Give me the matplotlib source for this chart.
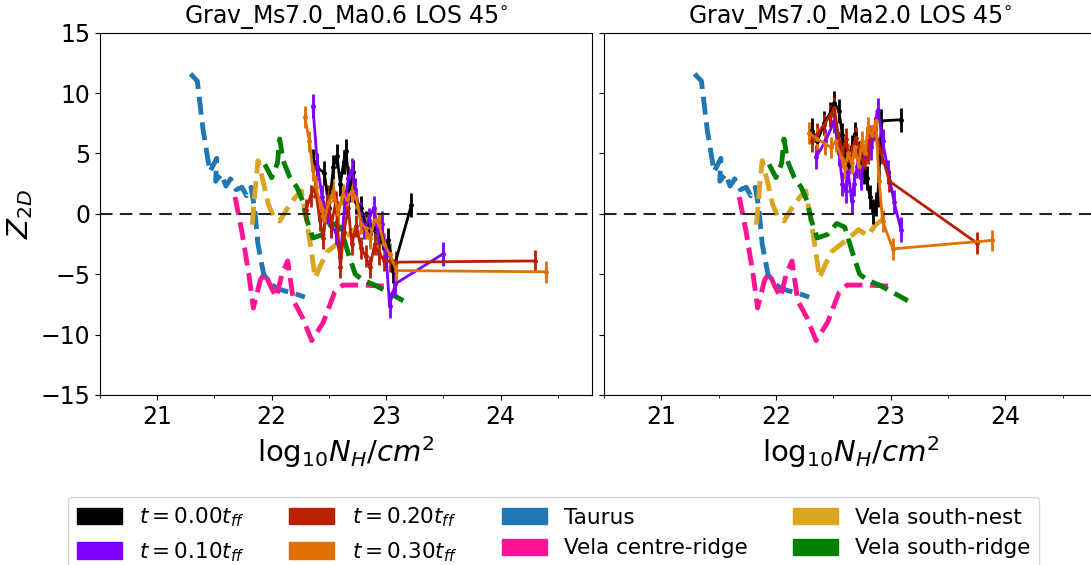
import numpy as np
import matplotlib
matplotlib.use("Agg")
from matplotlib import pyplot as plt
from matplotlib.patches import Patch

# observations (same in both panels)
taurus_x = [21.29, 21.35, 21.40, 21.46, 21.52, 21.51, 21.56, 21.60, 21.64, 21.69, 21.74,
            21.78, 21.82, 21.85, 21.88, 21.93, 21.99, 22.05, 22.12, 22.20, 22.29]
taurus_y = [11.6, 11.0, 7.0, 3.5, 4.6, 2.7, 3.3, 2.3, 2.9, 2.0, 2.2,
            1.5, 2.2, 0.5, -2.5, -5.0, -5.8, -6.2, -6.4, -6.6, -6.9]
centre_x = [21.68, 21.74, 21.80, 21.84, 21.90, 21.94, 21.99, 22.04, 22.09, 22.14, 22.19,
            22.27, 22.35, 22.45, 22.55, 22.62, 22.80, 23.03]
centre_y = [1.4, -1.5, -5.0, -7.8, -5.5, -4.9, -6.0, -6.9, -5.0, -3.9, -7.2,
            -8.6, -10.5, -9.0, -6.5, -5.9, -5.9, -6.0]
nest_x = [21.83, 21.86, 21.88, 21.93, 21.97, 22.02, 22.07, 22.14, 22.20, 22.26, 22.31,
          22.35, 22.38, 22.43, 22.49, 22.57, 22.64, 22.72, 22.80, 22.87, 22.95]
nest_y = [-0.9, 2.5, 4.4, 2.5, 0.8, -0.3, -0.6, 0.5, 1.3, 1.9, -0.8,
          -3.3, -5.3, -4.2, -3.1, -2.5, -2.0, -1.3, -1.8, -0.9, -0.3]
ridge_x = [21.94, 22.00, 22.05, 22.07, 22.10, 22.16, 22.22, 22.27, 22.31, 22.36,
           22.45, 22.53, 22.60, 22.67, 22.73, 22.80, 22.90, 23.00, 23.15]
ridge_y = [4.1, 3.0, 4.2, 6.2, 4.4, 3.0, 2.2, 1.1, -0.6, -2.0,
           -1.7, -0.8, -1.1, -3.3, -5.0, -5.5, -5.9, -6.4, -7.2]

# simulation Ma0.6
a_t0_x = [22.36, 22.40, 22.46, 22.50, 22.54, 22.57, 22.60, 22.63, 22.65, 22.68, 22.71,
          22.74, 22.78, 22.82, 22.86, 22.90, 22.94, 22.98, 23.02, 23.06, 23.22]
a_t0_y = [4.4, 3.8, 3.4, 0.5, 3.9, 4.8, 2.5, 4.3, 5.2, 2.0, 3.5,
          1.0, 0.5, -0.8, -1.7, -1.2, -1.5, -2.8, -2.2, -4.7, 0.7]
a_t1_x = [22.36, 22.40, 22.44, 22.48, 22.52, 22.56, 22.60, 22.64, 22.67, 22.70, 22.73,
          22.77, 22.81, 22.85, 22.89, 22.93, 22.96, 23.00, 23.03, 23.08, 23.50]
a_t1_y = [8.9, 4.0, 1.4, 0.2, -1.0, -1.5, -3.6, 1.0, 3.0, 3.6, 2.0,
          0.0, -1.1, -0.5, 0.5, -1.5, -0.8, -3.5, -7.6, -5.8, -3.3]
a_t2_x = [22.30, 22.34, 22.38, 22.42, 22.45, 22.49, 22.52, 22.56, 22.60, 22.63, 22.67,
          22.70, 22.74, 22.78, 22.82, 22.86, 22.90, 22.94, 22.98, 23.03, 23.09, 24.30]
a_t2_y = [0.3, 1.5, 2.2, -0.5, -2.0, 1.5, -1.0, 1.0, -4.4, -1.5, 0.5,
          -2.5, -1.0, -2.8, -3.5, -4.4, -2.5, -3.3, -3.8, -3.9, -4.0, -3.9]
a_t3_x = [22.29, 22.33, 22.36, 22.39, 22.43, 22.46, 22.50, 22.54, 22.58, 22.62, 22.66,
          22.70, 22.74, 22.78, 22.82, 22.86, 22.90, 22.94, 22.98, 23.03, 23.09, 24.40]
a_t3_y = [8.0, 6.0, 3.6, 2.2, 0.5, -0.5, 1.0, 1.9, 0.0, 1.6, 1.2,
          1.9, 1.3, -0.8, -1.2, -2.0, -0.5, -0.9, -2.5, -3.3, -4.7, -4.8]

# simulation Ma2.0
b_t0_x = [22.31, 22.36, 22.42, 22.47, 22.51, 22.55, 22.58, 22.60, 22.63, 22.66, 22.69,
          22.72, 22.74, 22.77, 22.79, 22.82, 22.85, 22.87, 22.89, 22.92, 23.09]
b_t0_y = [6.9, 6.0, 7.5, 8.3, 9.2, 8.5, 6.5, 5.2, 4.0, 5.5, 6.6,
          5.0, 4.1, 3.5, 3.0, 1.4, 0.2, 0.8, 1.6, 7.7, 7.8]
b_t1_x = [22.35, 22.43, 22.51, 22.55, 22.58, 22.61, 22.63, 22.66, 22.68, 22.71,
          22.74, 22.77, 22.80, 22.83, 22.86, 22.89, 22.93, 22.98, 23.03, 23.09]
b_t1_y = [4.7, 6.0, 7.7, 5.0, 2.5, 1.9, 3.5, 1.1, 2.5, 4.0,
          3.0, 4.5, 6.0, 5.5, 7.0, 8.6, 6.0, 3.5, 1.0, -1.3]
b_t2_x = [22.31, 22.36, 22.42, 22.47, 22.51, 22.55, 22.58, 22.61, 22.64, 22.67,
          22.70, 22.73, 22.77, 22.80, 22.83, 22.86, 22.92, 22.99, 23.75]
b_t2_y = [6.0, 6.6, 7.4, 8.1, 8.8, 6.0, 5.0, 6.2, 4.5, 5.5,
          6.3, 5.0, 4.1, 5.0, 6.5, 7.1, 5.0, 2.7, -2.4]
b_t3_x = [22.29, 22.36, 22.43, 22.48, 22.52, 22.57, 22.60, 22.63, 22.66, 22.69,
          22.72, 22.75, 22.78, 22.80, 22.84, 22.87, 22.90, 22.93, 23.02, 23.88]
b_t3_y = [6.7, 6.2, 5.8, 5.5, 6.0, 4.7, 3.8, 5.0, 4.2, 5.5,
          4.0, 6.0, 5.0, 7.1, 6.5, 7.7, 2.7, -0.6, -2.9, -2.2]

sim_err = [1.0, 1.0, 0.9, 0.9]
sim_labels = [r'$t=0.00t_{ff}$', r'$t=0.10t_{ff}$', r'$t=0.20t_{ff}$', r'$t=0.30t_{ff}$']
sim_colors = ['#000000', '#8000ff', '#b82000', '#e07000']
obs_labels = ['Taurus', 'Vela centre-ridge', 'Vela south-nest', 'Vela south-ridge']
obs_colors = ['#1f77b4', '#ff1493', '#daa520', '#008000']
titles = ['Grav_Ms7.0_Ma0.6 LOS 45$^{\\circ}$', 'Grav_Ms7.0_Ma2.0 LOS 45$^{\\circ}$']

obs = [(taurus_x, taurus_y), (centre_x, centre_y), (nest_x, nest_y), (ridge_x, ridge_y)]
sims = [[(a_t0_x, a_t0_y), (a_t1_x, a_t1_y), (a_t2_x, a_t2_y), (a_t3_x, a_t3_y)],
        [(b_t0_x, b_t0_y), (b_t1_x, b_t1_y), (b_t2_x, b_t2_y), (b_t3_x, b_t3_y)]]

fig = plt.figure(figsize=(10.91, 5.65), dpi=100)
ax1 = fig.add_axes([0.0917, 0.301, 0.451, 0.641])
ax2 = fig.add_axes([0.5536, 0.301, 0.4519, 0.641], sharey=ax1)

for k, ax in enumerate([ax1, ax2]):
    for (x, y), c in zip(obs, obs_colors):
        ax.plot(x, y, ls='--', lw=3.5, color=c)
    for (x, y), c, e in zip(sims[k], sim_colors, sim_err):
        ax.errorbar(x, y, yerr=e, color=c, lw=2, elinewidth=2, marker='o', ms=2.5, capsize=0)
    ax.axhline(0, color='#222222', lw=1.5, dashes=(6, 3.5))
    ax.set_xlim(20.5, 24.8)
    ax.set_ylim(-15, 15)
    ax.set_xticks([21, 22, 23, 24])
    ax.set_xticks(np.arange(20.5, 24.8, 0.5), minor=True)
    ax.set_yticks([-15, -10, -5, 0, 5, 10, 15])
    ax.tick_params(labelsize=17)
    ax.set_title(titles[k], fontsize=17)
    ax.set_xlabel(r'$\mathrm{log}_{10}N_H/cm^2$', fontsize=21)

ax1.set_ylabel(r'$Z_{2D}$', fontsize=21)
plt.setp(ax2.get_yticklabels(), visible=False)

handles = [Patch(color=c, label=l) for c, l in zip(sim_colors + obs_colors, sim_labels + obs_labels)]
fig.legend(handles=handles, loc='upper left', bbox_to_anchor=(0.0623, 0.0, 0.89, 0.1204),
           mode='expand', ncol=4, fontsize=15.5, handlelength=2.1, handleheight=0.8,
           borderaxespad=0)

plt.savefig('out.png', dpi=100)
